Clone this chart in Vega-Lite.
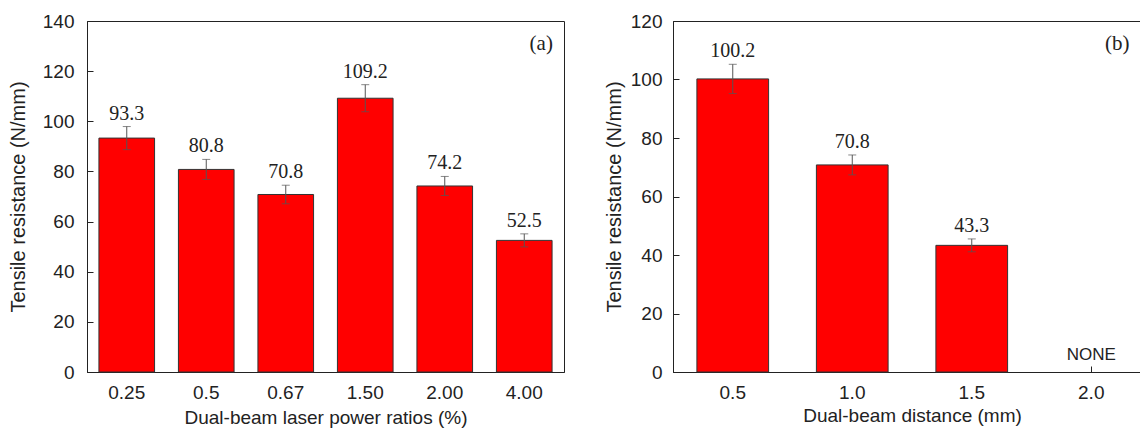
{
  "$schema": "https://vega.github.io/schema/vega-lite/v6.json",
  "padding": {"left": 7, "top": 11, "right": 0, "bottom": 0},
  "background": "white",
  "bounds": "flush",
  "spacing": 109,
  "config": {
    "view": {"stroke": "#222", "strokeWidth": 1},
    "axis": {
      "labelFont": "Liberation Sans", "labelFontSize": 19, "labelColor": "#222",
      "titleFont": "Liberation Sans", "titleFontSize": 20, "titleFontWeight": "normal", "titleColor": "#222",
      "domainColor": "#222", "tickColor": "#222", "grid": false
    }
  },
  "hconcat": [
    {
      "width": 477, "height": 351,
      "data": {"values": [
        {"r": "0.25", "v": 93.3, "err": 4.6},
        {"r": "0.5", "v": 80.8, "err": 4.0},
        {"r": "0.67", "v": 70.8, "err": 3.7},
        {"r": "1.50", "v": 109.2, "err": 5.4},
        {"r": "2.00", "v": 74.2, "err": 3.8},
        {"r": "4.00", "v": 52.5, "err": 2.6}
      ]},
      "transform": [{"calculate": "datum.v + datum.err", "as": "top"}],
      "encoding": {
        "x": {"field": "r", "type": "nominal",
          "scale": {"domain": ["0.25", "0.5", "0.67", "1.50", "2.00", "4.00"], "paddingInner": 0.3, "paddingOuter": 0.15},
          "axis": {"title": "Dual-beam laser power ratios (%)", "titleFontSize": 19, "labelAngle": 0, "tickSize": -6, "labelPadding": 17, "titlePadding": 6}}
      },
      "layer": [
        {"mark": {"type": "bar", "color": "#ff0000", "stroke": "#333", "strokeWidth": 1},
         "encoding": {"y": {"field": "v", "type": "quantitative", "title": "Tensile resistance (N/mm)",
           "scale": {"domain": [0, 140]},
           "axis": {"values": [0,10,20,30,40,50,60,70,80,90,100,110,120,130,140],
             "labelExpr": "datum.value % 20 == 0 ? datum.label : ''",
             "tickSize": {"condition": {"test": "datum.value % 20 == 0", "value": -6}, "value": -3},
             "labelPadding": 19, "titlePadding": 14}}}},
        {"mark": {"type": "errorbar", "color": "#555", "ticks": {"size": 8}},
         "encoding": {"y": {"field": "v", "type": "quantitative", "title": "Tensile resistance (N/mm)"}, "yError": {"field": "err"}}},
        {"mark": {"type": "text", "font": "Liberation Serif", "fontSize": 20, "color": "#222", "dy": -7, "baseline": "alphabetic"},
         "encoding": {"y": {"field": "top", "type": "quantitative", "title": "Tensile resistance (N/mm)"}, "text": {"field": "v", "format": ".1f"}}},
        {"data": {"values": [{}]},
         "mark": {"type": "text", "font": "Liberation Serif", "fontSize": 21, "color": "#222", "dx": 17, "baseline": "middle"},
         "encoding": {"x": {"datum": "4.00"}, "y": {"datum": 131}, "text": {"value": "(a)"}}}
      ]
    },
    {
      "width": 478, "height": 351,
      "data": {"values": [
        {"d": "0.5", "v": 100.2, "err": 5.0},
        {"d": "1.0", "v": 70.8, "err": 3.4},
        {"d": "1.5", "v": 43.3, "err": 2.2}
      ]},
      "transform": [{"calculate": "datum.v + datum.err", "as": "top"}],
      "encoding": {
        "x": {"field": "d", "type": "nominal",
          "scale": {"domain": ["0.5", "1.0", "1.5", "2.0"], "paddingInner": 0.4, "paddingOuter": 0.2},
          "axis": {"title": "Dual-beam distance (mm)", "titleFontSize": 19, "labelAngle": 0, "tickSize": -6, "labelPadding": 17, "titlePadding": 4}}
      },
      "layer": [
        {"mark": {"type": "bar", "color": "#ff0000", "stroke": "#333", "strokeWidth": 1},
         "encoding": {"y": {"field": "v", "type": "quantitative", "title": "Tensile resistance (N/mm)",
           "scale": {"domain": [0, 120]},
           "axis": {"values": [0,10,20,30,40,50,60,70,80,90,100,110,120],
             "labelExpr": "datum.value % 20 == 0 ? datum.label : ''",
             "tickSize": {"condition": {"test": "datum.value % 20 == 0", "value": -6}, "value": -3},
             "labelPadding": 17, "titlePadding": 6}}}},
        {"mark": {"type": "errorbar", "color": "#555", "ticks": {"size": 8}},
         "encoding": {"y": {"field": "v", "type": "quantitative", "title": "Tensile resistance (N/mm)"}, "yError": {"field": "err"}}},
        {"mark": {"type": "text", "font": "Liberation Serif", "fontSize": 20, "color": "#222", "dy": -7, "baseline": "alphabetic"},
         "encoding": {"y": {"field": "top", "type": "quantitative", "title": "Tensile resistance (N/mm)"}, "text": {"field": "v", "format": ".1f"}}},
        {"data": {"values": [{}]},
         "mark": {"type": "text", "font": "Liberation Sans", "fontSize": 17, "color": "#222", "baseline": "alphabetic", "dy": -12},
         "encoding": {"x": {"datum": "2.0"}, "y": {"datum": 0}, "text": {"value": "NONE"}}},
        {"data": {"values": [{}]},
         "mark": {"type": "text", "font": "Liberation Serif", "fontSize": 21, "color": "#222", "dx": 26, "baseline": "middle"},
         "encoding": {"x": {"datum": "2.0"}, "y": {"datum": 112}, "text": {"value": "(b)"}}}
      ]
    }
  ]
}
